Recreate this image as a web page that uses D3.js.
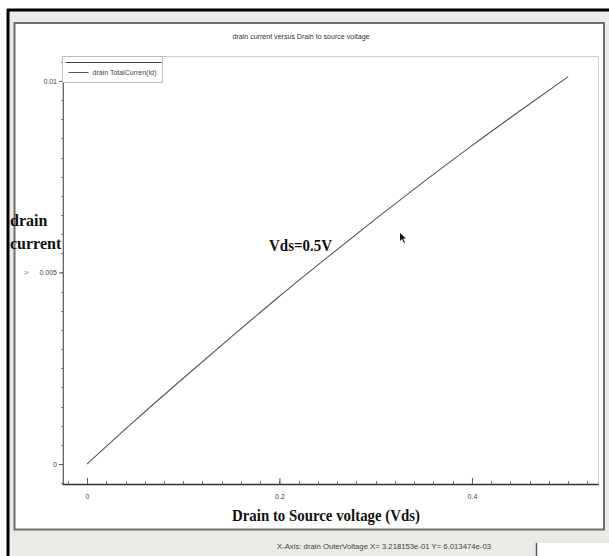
<!DOCTYPE html>
<html>
<head>
<meta charset="utf-8">
<script src="https://cdn.jsdelivr.net/npm/d3@7"></script>
<style>
  body { margin: 0; background: #fff; }
  svg { display: block; }
</style>
</head>
<body>
<svg id="chart" width="609" height="556"></svg>
<script>
// Data
const vds = [0, 0.05, 0.1, 0.15, 0.2, 0.25, 0.3, 0.35, 0.4, 0.45, 0.5];
const drainCurrent = [0, 0.00114, 0.00224, 0.00332, 0.00438, 0.0054, 0.0064, 0.00737, 0.00831, 0.00922, 0.01011];

const xTickValues = [0, 0.2, 0.4];
const xTickLabels = ["0", "0.2", "0.4"];
const yTickValues = [0, 0.005, 0.01];
const yTickLabels = ["0", "0.005", "0.01"];

const chartTitle = "drain current versus Drain to source voltage";
const legendLabel = "drain TotalCurren(Id)";
const xLabel = "Drain to Source voltage (Vds)";
const yLabel = ["drain", "current"];
const annotation = "Vds=0.5V";
const statusText = "X-Axis: drain OuterVoltage  X= 3.218153e-01 Y= 6.013474e-03";

const svg = d3.select("#chart");
const sans = "'Liberation Sans', Arial, sans-serif";
const serif = "'Liberation Serif', 'Times New Roman', serif";

// Window background and black frame
svg.append("rect").attr("x", 8).attr("y", 10).attr("width", 601).attr("height", 546).attr("fill", "#ebeae7");
svg.append("line").attr("x1", 8).attr("x2", 8).attr("y1", 9).attr("y2", 556).attr("stroke", "#000").attr("stroke-width", 3);
svg.append("line").attr("x1", 7).attr("x2", 609).attr("y1", 10).attr("y2", 10).attr("stroke", "#000").attr("stroke-width", 3);

// White plot panel
svg.append("rect").attr("x", 14.5).attr("y", 23).attr("width", 589.5).attr("height", 506.5)
    .attr("fill", "#fff").attr("stroke", "#6d6d6d").attr("stroke-width", 2);

// Scales
const plot = {left: 62, right: 598, top: 56, bottom: 484};
const x = d3.scaleLinear().domain([-0.026, 0.531]).range([plot.left, plot.right]);
const y = d3.scaleLinear().domain([-0.00052, 0.01065]).range([plot.bottom, plot.top]);

// Plot frame
svg.append("rect").attr("x", plot.left + 0.5).attr("y", plot.top + 0.5)
    .attr("width", plot.right - plot.left).attr("height", plot.bottom - plot.top)
    .attr("fill", "none").attr("stroke", "#cfcfcf");

// Title
svg.append("text").attr("x", 301).attr("y", 39).attr("text-anchor", "middle")
    .attr("font-family", sans).attr("font-size", 7).attr("fill", "#333")
    .attr("textLength", 137).attr("lengthAdjust", "spacingAndGlyphs")
    .text(chartTitle);

// Minor ticks
svg.append("g").selectAll("line")
    .data(d3.range(-0.0005, 0.0106, 0.0005))
    .enter().append("line")
    .attr("x1", plot.left - 1).attr("x2", plot.left + 2)
    .attr("y1", d => Math.round(y(d)) + 0.5).attr("y2", d => Math.round(y(d)) + 0.5)
    .attr("stroke", "#777");
svg.append("g").selectAll("line")
    .data(d3.range(-0.02, 0.53, 0.02))
    .enter().append("line")
    .attr("x1", d => Math.round(x(d)) + 0.5).attr("x2", d => Math.round(x(d)) + 0.5)
    .attr("y1", plot.bottom - 3).attr("y2", plot.bottom + 1)
    .attr("stroke", "#777");

// Y axis
const yAxis = svg.append("g")
    .attr("transform", `translate(${plot.left + 1},0)`)
    .call(d3.axisLeft(y).tickValues(yTickValues).tickSize(4).tickSizeOuter(0).tickPadding(2)
        .tickFormat((d, i) => yTickLabels[i]));
yAxis.select(".domain").attr("stroke", "#666");
yAxis.selectAll(".tick line").attr("stroke", "#555");
yAxis.selectAll("text").attr("font-family", sans).attr("font-size", 7).attr("fill", "#444");

// X axis
const xAxis = svg.append("g")
    .attr("transform", `translate(0,${plot.bottom})`)
    .call(d3.axisBottom(x).tickValues(xTickValues).tickSizeInner(-6).tickSizeOuter(0).tickPadding(10)
        .tickFormat((d, i) => xTickLabels[i]));
xAxis.select(".domain").attr("stroke", "#333").attr("stroke-width", 1.5);
xAxis.selectAll(".tick line").attr("stroke", "#555");
xAxis.selectAll("text").attr("font-family", sans).attr("font-size", 7).attr("fill", "#444");

// The curve
const line = d3.line().x(d => x(d[0])).y(d => y(d[1])).curve(d3.curveMonotoneX);
svg.append("path")
    .datum(vds.map((v, i) => [v, drainCurrent[i]]))
    .attr("d", line)
    .attr("fill", "none").attr("stroke", "#555").attr("stroke-width", 1.1);

// Legend
const legend = svg.append("g").attr("transform", `translate(${plot.left + 0.5},${plot.top + 0.5})`);
legend.append("rect").attr("width", 100).attr("height", 26).attr("fill", "#fff").attr("stroke", "#bdbdbd");
legend.append("line").attr("x1", 3).attr("x2", 99).attr("y1", 6).attr("y2", 6).attr("stroke", "#444").attr("stroke-width", 1.2);
legend.append("line").attr("x1", 6).attr("x2", 26).attr("y1", 16).attr("y2", 16).attr("stroke", "#555");
legend.append("text").attr("x", 30).attr("y", 18.5)
    .attr("font-family", sans).attr("font-size", 7).attr("fill", "#444")
    .text(legendLabel);

// Axis titles and annotation
svg.append("text").attr("x", 10).attr("y", 226)
    .attr("font-family", serif).attr("font-weight", "bold").attr("font-size", 16).attr("fill", "#111")
    .text(yLabel[0]);
svg.append("text").attr("x", 10).attr("y", 249)
    .attr("font-family", serif).attr("font-weight", "bold").attr("font-size", 16).attr("fill", "#111")
    .text(yLabel[1]);
svg.append("text").attr("x", 24).attr("y", 275)
    .attr("font-family", sans).attr("font-size", 8).attr("fill", "#777")
    .text(">");
svg.append("text").attr("x", 269).attr("y", 251)
    .attr("font-family", serif).attr("font-weight", "bold").attr("font-size", 16).attr("fill", "#111")
    .attr("textLength", 63).attr("lengthAdjust", "spacingAndGlyphs")
    .text(annotation);
svg.append("text").attr("x", 326).attr("y", 521).attr("text-anchor", "middle")
    .attr("font-family", serif).attr("font-weight", "bold").attr("font-size", 17).attr("fill", "#111")
    .attr("textLength", 188).attr("lengthAdjust", "spacingAndGlyphs")
    .text(xLabel);

// Mouse pointer left in the screenshot
svg.append("path").attr("d", "M400,233 l0,8 l2,-2 l2,4 l1,-0.5 l-2,-4 l3,0 z").attr("fill", "#111");

// Status bar
svg.append("text").attr("x", 384).attr("y", 549).attr("text-anchor", "middle")
    .attr("font-family", sans).attr("font-size", 7).attr("fill", "#444")
    .attr("textLength", 214).attr("lengthAdjust", "spacingAndGlyphs")
    .text(statusText);
svg.append("rect").attr("x", 536).attr("y", 543).attr("width", 73).attr("height", 13).attr("fill", "#fff");
svg.append("line").attr("x1", 536.5).attr("x2", 536.5).attr("y1", 543).attr("y2", 556).attr("stroke", "#556").attr("stroke-width", 1.5);
</script>
</body>
</html>
